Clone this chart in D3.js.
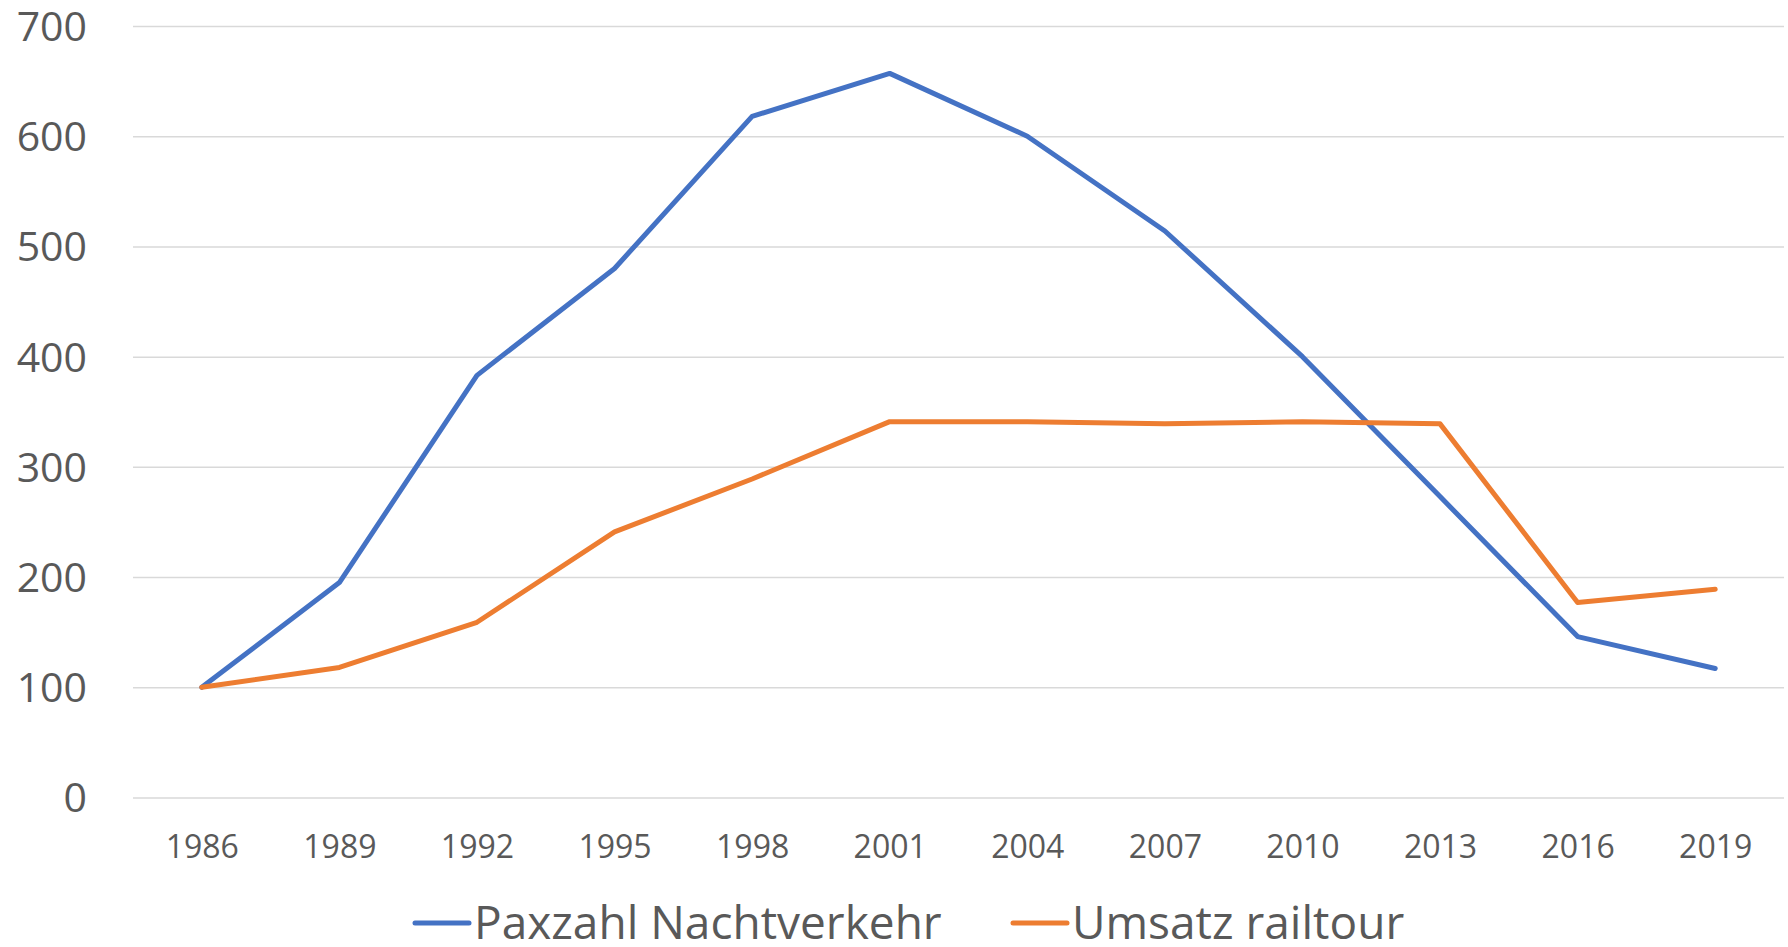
<!DOCTYPE html>
<html>
<head>
<meta charset="utf-8">
<script src="https://cdn.jsdelivr.net/npm/d3@7"></script>
<style>
  html, body { margin: 0; padding: 0; background: #fff; }
  svg { display: block; }
</style>
</head>
<body>
<svg id="chart" width="1788" height="947"></svg>
<script>
const years = ["1986","1989","1992","1995","1998","2001","2004","2007","2010","2013","2016","2019"];
const paxzahl = [100, 195, 383, 480, 618, 657, 600, 514, 400, 273, 146, 117];
const umsatz = [100, 118, 159, 241, 289, 341, 341, 339, 341, 339, 177, 189];
const yTicks = [0, 100, 200, 300, 400, 500, 600, 700];
const seriesNames = ["Paxzahl Nachtverkehr", "Umsatz railtour"];
const seriesColors = ["#4472C4", "#ED7D31"];

const svg = d3.select("#chart");
const plotLeft = 133, plotRight = 1784, plotTop = 26, plotBottom = 797.5;
const font = "'Open Sans', 'DejaVu Sans', sans-serif";
const textColor = "#595959";

const x = d3.scalePoint().domain(years).range([plotLeft, plotRight]).padding(0.5);
const y = d3.scaleLinear().domain([0, 700]).range([plotBottom, plotTop]);

// gridlines
const yAxis = d3.axisLeft(y).tickValues(yTicks).tickSize(-(plotRight - plotLeft)).tickPadding(46).tickFormat(d3.format("d"));
const gy = svg.append("g").attr("transform", `translate(${plotLeft},0)`).call(yAxis);
gy.select(".domain").remove();
gy.selectAll(".tick line").attr("stroke", "#D9D9D9").attr("stroke-width", 1.5);
gy.selectAll(".tick text").attr("fill", textColor).style("font-family", font).style("font-size", "41px").attr("dy", "0.35em");

// x axis labels
const xAxis = d3.axisBottom(x).tickSize(0).tickPadding(38);
const gx = svg.append("g").attr("transform", `translate(0,${plotBottom})`).call(xAxis);
gx.select(".domain").remove();
gx.selectAll(".tick text").attr("fill", textColor).style("font-family", font).style("font-size", "32px");

// lines
const line = d3.line().x((d, i) => x(years[i])).y(d => y(d));
[paxzahl, umsatz].forEach((vals, k) => {
  svg.append("path").datum(vals)
    .attr("d", line)
    .attr("fill", "none")
    .attr("stroke", seriesColors[k])
    .attr("stroke-width", 5)
    .attr("stroke-linejoin", "round")
    .attr("stroke-linecap", "round");
});

// legend
const legendY = 923;
const legendItems = [{x: 415}, {x: 1013}];
seriesNames.forEach((name, k) => {
  const g = svg.append("g").attr("transform", `translate(${legendItems[k].x},${legendY})`);
  g.append("line").attr("x1", 0).attr("x2", 54).attr("y1", 0).attr("y2", 0)
    .attr("stroke", seriesColors[k]).attr("stroke-width", 5).attr("stroke-linecap", "round");
  g.append("text").attr("x", 59).attr("y", 0).attr("dy", "0.35em")
    .attr("fill", textColor).style("font-family", font).style("font-size", "46px")
    .text(name);
});
</script>
</body>
</html>
